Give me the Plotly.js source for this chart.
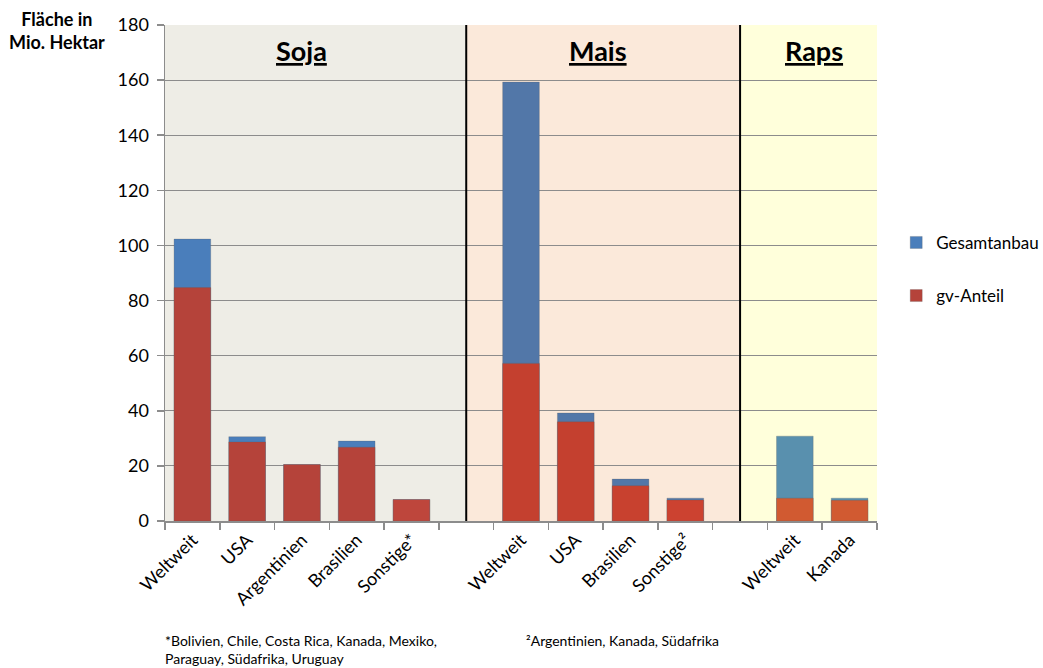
<!DOCTYPE html>
<html>
<head>
<meta charset="utf-8">
<script src="https://cdn.plot.ly/plotly-3.0.1.min.js"></script>
<style>html,body{margin:0;padding:0;background:#fff;}#chart{width:1043px;height:668px;}</style>
</head>
<body>
<div id="chart"></div>
<script>
// ---- data ----
const categories = ['Weltweit','USA','Argentinien','Brasilien','Sonstige*','', 'Weltweit','USA','Brasilien','Sonstige²','', 'Weltweit','Kanada'];
const gesamtanbau = [102.3, 30.6, 20.5, 29.0, 7.8, null, 159.3, 39.2, 15.2, 8.3, null, 30.8, 8.3];
const gvAnteil    = [84.7, 28.7, 20.5, 26.8, 7.8, null, 57.2, 36.0, 12.8, 7.6, null, 8.3, 7.5];
const groups = ['Soja','Mais','Raps'];
const footnote1 = '*Bolivien, Chile, Costa Rica, Kanada, Mexiko,<br>Paraguay, Südafrika, Uruguay';
const footnote2 = '²Argentinien, Kanada, Südafrika';

// ---- styles ----
const blueCols = ['#4A7EBB','#4A7EBB','#4A7EBB','#4A7EBB','#4A7EBB',null,'#5277A8','#5277A8','#5277A8','#5277A8',null,'#5990AE','#5990AE'];
const redCols  = ['#B5433A','#B5433A','#B5433A','#B5433A','#BE463C',null,'#C4402F','#C4402F','#C8412F','#CC4230',null,'#D15A31','#D15A31'];
const xs = categories.map((c,i)=>i);
const font = 'Lato, "Open Sans", sans-serif';

const traces = [
  {type:'bar', name:'Gesamtanbau', x:xs, y:gesamtanbau, width:0.67,
   marker:{color:blueCols, line:{color:'rgba(90,90,90,0.25)', width:1}},
   legendgroup:'a', hoverinfo:'y'},
  {type:'bar', name:'gv-Anteil', x:xs, y:gvAnteil, width:0.67,
   marker:{color:redCols, line:{color:'rgba(90,90,90,0.25)', width:1}},
   legendgroup:'b', hoverinfo:'y'}
];

const layout = {
  width:1043, height:668,
  margin:{l:165, r:166, t:25, b:147, autoexpand:false},
  paper_bgcolor:'#ffffff', plot_bgcolor:'#ffffff',
  barmode:'overlay',
  font:{family:font, size:16, color:'#000'},
  showlegend:true,
  legend:{x:1.027, y:0.597, xanchor:'left', yanchor:'top', traceorder:'grouped', tracegroupgap:28,
          font:{size:17, family:font}, itemwidth:30, bgcolor:'rgba(0,0,0,0)'},
  xaxis:{range:[-0.5,12.5], tickvals:xs, ticktext:categories, tickangle:-45, ticks:'',
         showgrid:false, zeroline:false, showline:true, linecolor:'#8C8C8C', linewidth:1.5,
         tickfont:{size:18, family:font}, fixedrange:true,
         minor:{ticks:'outside', tick0:-0.5, dtick:1, ticklen:7, tickcolor:'#8C8C8C', tickwidth:1.5, showgrid:false}},
  yaxis:{range:[0,180], dtick:20, ticks:'outside', ticklen:7, tickcolor:'#8C8C8C', tickwidth:1.5,
         ticklabelstandoff:4,
         showline:true, linecolor:'#8C8C8C', linewidth:1.5, showgrid:true, gridcolor:'#8C8C8C', gridwidth:1,
         zeroline:false, tickfont:{size:18, family:font}, fixedrange:true},
  shapes:[
    {type:'rect', xref:'x', yref:'paper', x0:-0.5, x1:5, y0:0, y1:1, fillcolor:'#EEEDE6', line:{width:0}, layer:'below'},
    {type:'rect', xref:'x', yref:'paper', x0:5, x1:10, y0:0, y1:1, fillcolor:'#FBE9DA', line:{width:0}, layer:'below'},
    {type:'rect', xref:'x', yref:'paper', x0:10, x1:12.5, y0:0, y1:1, fillcolor:'#FFFFDB', line:{width:0}, layer:'below'},
    {type:'line', xref:'x', yref:'paper', x0:5, x1:5, y0:0, y1:1, line:{color:'#000', width:2}},
    {type:'line', xref:'x', yref:'paper', x0:10, x1:10, y0:0, y1:1, line:{color:'#000', width:2}}
  ],
  annotations:[
    {xref:'x', yref:'paper', x:2.0, y:0.948, yanchor:'middle', text:'<b><u>'+groups[0]+'</u></b>', showarrow:false, font:{size:27, family:font}},
    {xref:'x', yref:'paper', x:7.4, y:0.948, yanchor:'middle', text:'<b><u>'+groups[1]+'</u></b>', showarrow:false, font:{size:27, family:font}},
    {xref:'x', yref:'paper', x:11.35, y:0.948, yanchor:'middle', text:'<b><u>'+groups[2]+'</u></b>', showarrow:false, font:{size:27, family:font}},
    {xref:'paper', yref:'paper', x:-0.152, y:1.038, xanchor:'center', yanchor:'top', align:'center',
     text:'<b>Fläche in<br>Mio. Hektar</b>', showarrow:false, font:{size:18, family:font}},
    {xref:'paper', yref:'paper', x:-0.003, y:-0.22, xanchor:'left', yanchor:'top', align:'left',
     text:footnote1, showarrow:false, font:{size:14, family:font}},
    {xref:'paper', yref:'paper', x:0.504, y:-0.22, xanchor:'left', yanchor:'top', align:'left',
     text:footnote2, showarrow:false, font:{size:14, family:font}}
  ]
};

Plotly.newPlot('chart', traces, layout, {displayModeBar:false, staticPlot:true});
</script>
</body>
</html>
